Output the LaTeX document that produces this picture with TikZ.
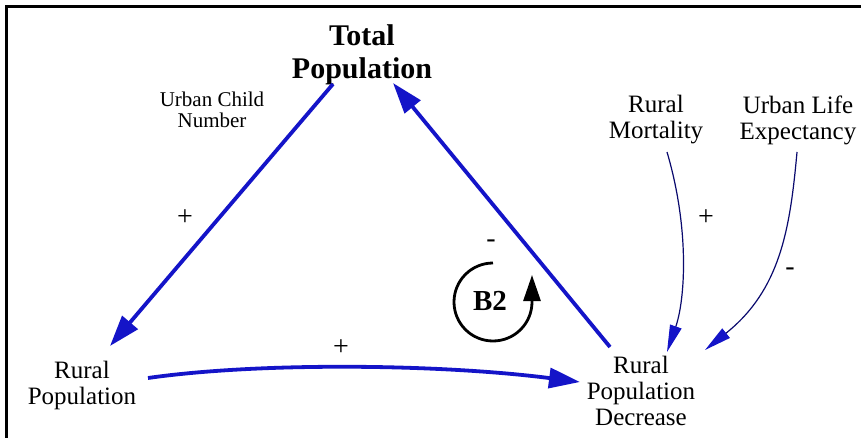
\documentclass[tikz,border=0pt]{standalone}
\usepackage{fontspec}
\setmainfont{Liberation Serif}
\usetikzlibrary{arrows.meta}
\definecolor{linkblue}{RGB}{20,20,200}
\definecolor{thinblue}{RGB}{10,10,110}
\tikzset{
  var/.style={align=center, font=\fontsize{25}{26}\selectfont, inner sep=1pt},
  thick link/.style={draw=linkblue, line width=3.8pt, -{Triangle[length=31pt,width=20pt]}},
  thin link/.style={draw=thinblue, line width=1.2pt, -{Triangle[length=27pt,width=12pt,color=linkblue]}},
  pol/.style={font=\fontsize{28}{28}\selectfont, inner sep=0pt},
}
\begin{document}
\begin{tikzpicture}[x=1pt,y=-1pt]
\useasboundingbox (0,0) rectangle (861,438);
\fill[white] (0,0) rectangle (861,438);
% frame
\draw[line width=3pt] (6.5,438) -- (6.5,6.5) -- (861,6.5);
% nodes
\node[align=center, font=\bfseries\fontsize{30}{33}\selectfont, inner sep=0pt] (tp) at (362,55) {Total\\Population};
\node[align=center, font=\fontsize{21}{21}\selectfont, inner sep=0pt] (ucn) at (212,110) {Urban Child\\Number};
\node[var] (rm) at (656,120) {Rural\\Mortality};
\node[var] (ule) at (798,120) {Urban Life\\Expectancy};
\node[var] (rp) at (82,385) {Rural\\Population};
\node[var] (rpd) at (641,391) {Rural\\Population\\Decrease};
% anchor coordinates
\coordinate (tpL) at (333,84);
\coordinate (tpR) at (393,83);
\coordinate (rpT) at (110,346);
\coordinate (rpR) at (148,378);
\coordinate (rpdTL) at (610,347);
\coordinate (rpdL) at (580,382);
\coordinate (rpdT) at (667,352);
\coordinate (rpdTR) at (705,350);
\coordinate (rmB) at (667,152);
\coordinate (uleB) at (797,152);
\coordinate (loopS) at (493,263);
% links
\draw[thick link] (tpL) -- (rpT);
\draw[thick link] (rpdTL) -- (tpR);
\draw[thick link] (rpR) .. controls (260,362) and (440,364) .. (rpdL);
\draw[thin link] (rmB) .. controls (690,230) and (685,300) .. (rpdT);
\draw[thin link] (uleB) .. controls (790,230) and (780,290) .. (rpdTR);
% polarities
\node[pol] (p1) at (185,218) {+};
\node[pol] (p2) at (491,244) {-};
\node[pol] (p3) at (341,348) {+};
\node[pol] (p4) at (706,218) {+};
\node[pol] (p5) at (790,272) {-};
% loop
\node[font=\bfseries\fontsize{29}{30}\selectfont, inner sep=0pt] (b2) at (490,301) {B2};
\draw[line width=2.8pt, -{Triangle[length=26pt,width=17pt]}] (loopS) arc[start angle=90, end angle=360, radius=39pt] -- ++(0,-27);
\end{tikzpicture}
\end{document}
